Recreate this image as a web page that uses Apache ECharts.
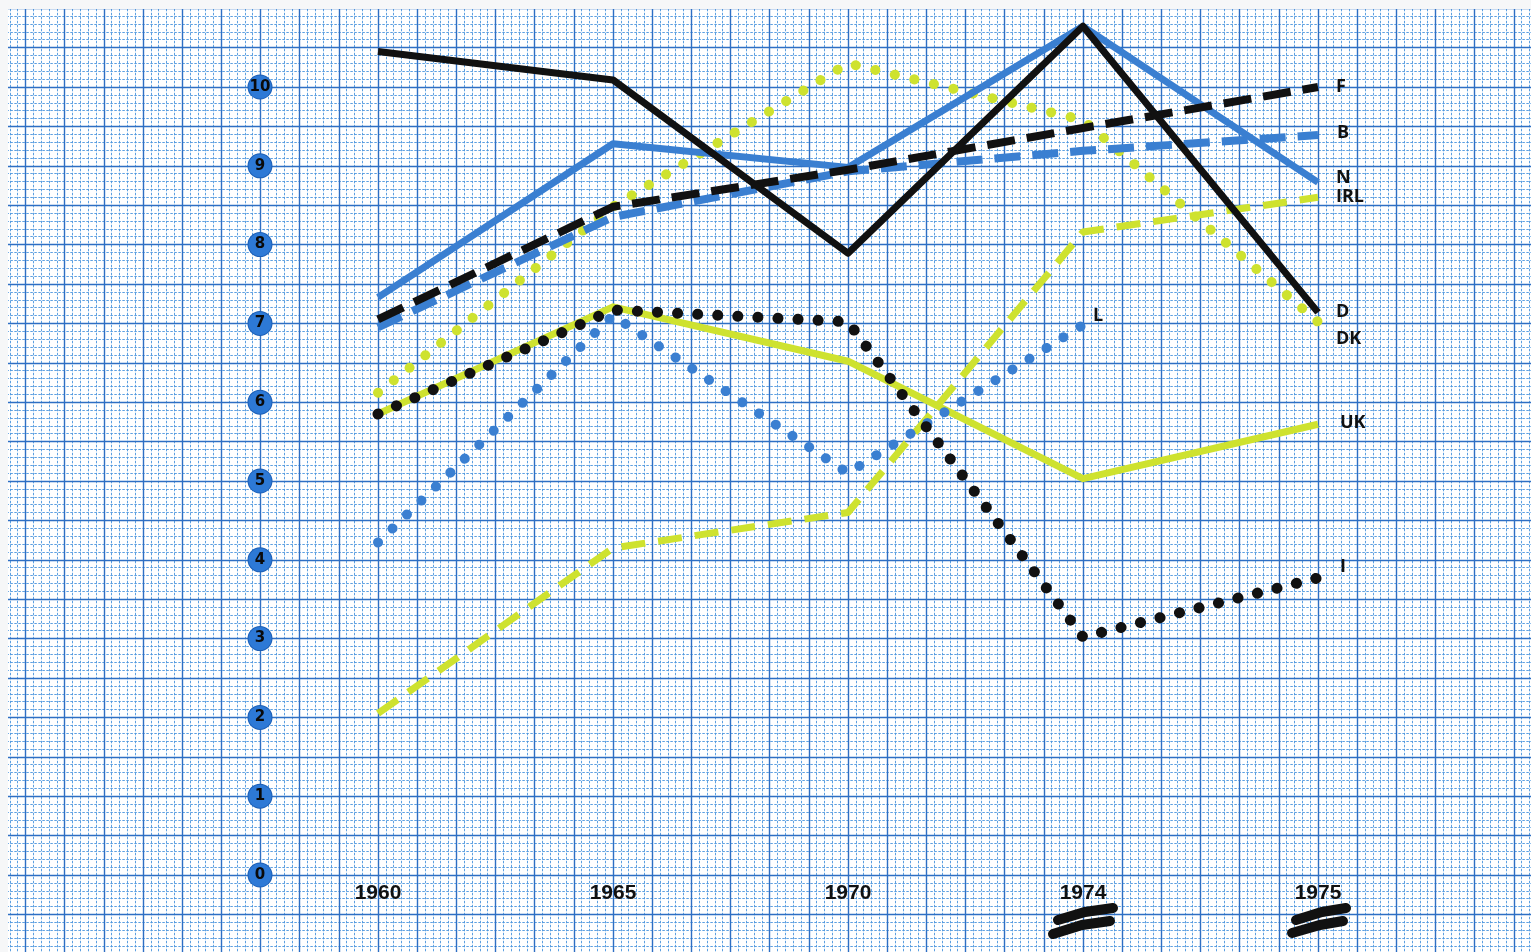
<!DOCTYPE html>
<html>
<head>
<meta charset="utf-8">
<script src="https://cdn.jsdelivr.net/npm/echarts@6/dist/echarts.min.js"></script>
<style>
  html, body { margin: 0; padding: 0; background: #fff; }
  #main { width: 1531px; height: 952px; }
</style>
</head>
<body>
<div id="main"></div>
<script>
// years on the bottom axis
var years = ['1960', '1965', '1970', '1974', '1975'];

// one array per country
var D   = [10.45, 10.09, 7.89, 10.77, 7.14];
var N   = [7.33, 9.28, 8.98, 10.77, 8.79];
var F   = [7.05, 8.48, 8.95, 9.48, 10.0];
var B   = [6.95, 8.35, 8.93, 9.19, 9.39];
var DK  = [6.12, 8.48, 10.3, 9.58, 7.02];
var IRL = [2.05, 4.15, 4.6, 8.16, 8.6];
var UK  = [5.85, 7.21, 6.52, 5.03, 5.72];
var I   = [5.85, 7.17, 7.02, 3.02, 3.77];
var L   = [4.22, 7.1, 5.1, 6.98];

var BLACK = '#111111', BLUE = '#3a7fd1', GREEN = '#cee22f';

var chart = echarts.init(document.getElementById('main'));

function paperAxis(interval, max, color, width, type, z) {
    return {
        gridIndex: 0, type: 'value', min: 0, max: max, interval: interval,
        axisLine: {show: false}, axisTick: {show: false}, axisLabel: {show: false},
        splitLine: {show: true, lineStyle: {color: color, width: width, type: type}},
        z: z
    };
}

function line(name, data, color, type, width, offset, z) {
    var dotted = Array.isArray(type) && type[0] < 1;
    return {
        name: name,
        type: 'line',
        xAxisIndex: 2,
        yAxisIndex: 2,
        data: data,
        symbol: 'none',
        z: z,
        lineStyle: {color: color, width: width, type: type, cap: dotted ? 'round' : 'butt', join: 'round'},
        endLabel: {
            show: true,
            formatter: name,
            offset: offset,
            color: '#111',
            fontFamily: '"Open Sans", "DejaVu Sans", sans-serif',
            fontWeight: 'bold',
            fontSize: 18
        }
    };
}

var option = {
    backgroundColor: '#ffffff',
    animation: false,
    grid: [
        // graph paper, one major cell = half a value unit
        {left: -13.67, top: -31.2, width: 1566.7, height: 985, outerBoundsMode: 'none', containLabel: false},
        {left: 378, right: 213, top: 8.2, bottom: 77, outerBoundsMode: 'none'}
    ],
    xAxis: [
        paperAxis(0.2, 40, 'rgba(75,150,222,0.9)', 1, [2.5, 1.5], 0),
        paperAxis(1, 40, '#2e6fc4', 1.4, 'solid', 1),
        {
            gridIndex: 1, type: 'category', data: years, boundaryGap: false, z: 10,
            axisLine: {show: false}, axisTick: {show: false}, splitLine: {show: false},
            axisLabel: {
                margin: 8, color: '#111',
                fontFamily: '"Liberation Sans", Arial, sans-serif',
                fontWeight: 'bold', fontSize: 21
            }
        }
    ],
    yAxis: [
        paperAxis(0.2, 25, 'rgba(75,150,222,0.9)', 1, [2.5, 1.5], 0),
        paperAxis(1, 25, '#2e6fc4', 1.4, 'solid', 1),
        {
            gridIndex: 1, type: 'value', min: 0, max: 11, interval: 1, z: 10,
            axisLine: {show: false}, axisTick: {show: false}, splitLine: {show: false},
            axisLabel: {
                showMaxLabel: false,
                margin: 118, align: 'center', verticalAlign: 'middle',
                width: 23, height: 23, lineHeight: 23,
                backgroundColor: '#2d79d6', borderRadius: 12,
                borderColor: '#1d5fb5', borderWidth: 1,
                color: '#0a0a0a', fontWeight: 'bold', fontSize: 15,
                fontFamily: '"DejaVu Sans", sans-serif'
            }
        }
    ],
    graphic: [
        {type: 'rect', z: 100, shape: {x: 0, y: 0, width: 1531, height: 9}, style: {fill: '#f6f7f8'}},
        {type: 'rect', z: 100, shape: {x: 0, y: 0, width: 8, height: 952}, style: {fill: '#f6f7f8'}},
        {type: 'polyline', z: 100, shape: {points: [[1053, 934], [1082, 925], [1110, 921]]}, style: {stroke: '#111', lineWidth: 10, lineCap: 'round', fill: null}},
        {type: 'polyline', z: 100, shape: {points: [[1058, 920], [1085, 912], [1113, 908]]}, style: {stroke: '#111', lineWidth: 10, lineCap: 'round', fill: null}},
        {type: 'polyline', z: 100, shape: {points: [[1292, 933], [1320, 925], [1343, 921]]}, style: {stroke: '#111', lineWidth: 10, lineCap: 'round', fill: null}},
        {type: 'polyline', z: 100, shape: {points: [[1296, 920], [1322, 912], [1346, 908]]}, style: {stroke: '#111', lineWidth: 10, lineCap: 'round', fill: null}}
    ],
    series: [
        line('IRL', IRL, GREEN, [24, 13], 7, [10, 0], 3),
        line('UK', UK, GREEN, 'solid', 7, [14, -1], 3),
        line('DK', DK, GREEN, [0.1, 20], 10, [10, 17], 3),
        line('L', L, BLUE, [0.1, 20], 10, [2, -9], 4),
        line('B', B, BLUE, [26, 12], 8, [11, -2], 4),
        line('N', N, BLUE, 'solid', 7, [10, -4], 4),
        line('I', I, BLACK, [0.1, 20], 11, [14, -11], 5),
        line('F', F, BLACK, [28, 12], 8, [10, 0], 5),
        line('D', D, BLACK, 'solid', 7, [10, 0], 5)
    ]
};

chart.setOption(option);
window.addEventListener('resize', function () { chart.resize(); });
</script>
</body>
</html>
